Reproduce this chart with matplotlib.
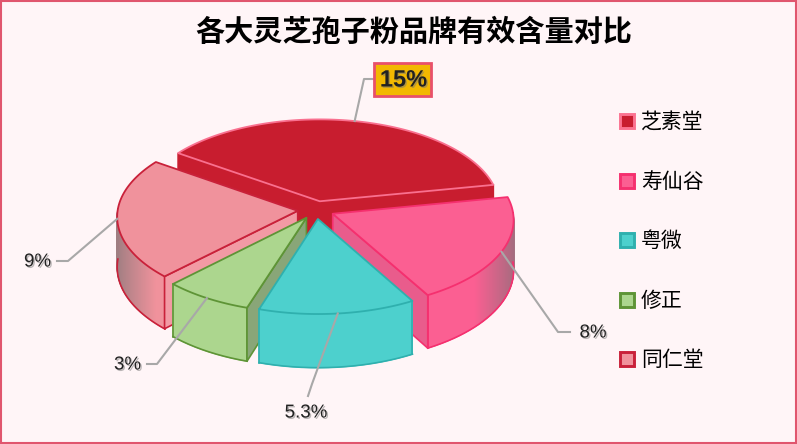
import numpy as np
import matplotlib
matplotlib.use('Agg')
import matplotlib.pyplot as plt
import matplotlib.patheffects as pe
from matplotlib.patches import Polygon, Rectangle

plt.rcParams['font.family'] = ['Noto Sans CJK SC', 'DejaVu Sans']

titulo = '各大灵芝孢子粉品牌有效含量对比'
marcas = ['芝素堂', '寿仙谷', '粤微', '修正', '同仁堂']
valores = [15, 8, 5.3, 3, 9]
rotulos = ['15%', '8%', '5.3%', '3%', '9%']

# topo, borda, parede cortada, parede externa
topo = ['#c81d2f', '#fb5f92', '#4dd0cd', '#acd68e', '#f0929c']
borda = ['#f9708f', '#f5306f', '#2fb0ae', '#5e9436', '#c9213a']
corte = ['#c81d2f', '#e95c8c', '#4dd0cd', '#89a678', '#f29aa4']
externa = ['#c81d2f', '#fb5f92', '#4dd0cd', '#acd68e', '#f0929c']
gradiente = [False, True, False, False, True]
legenda_fundo = ['#c81d2f', '#fb5f92', '#4dd0cd', '#acd68e', '#f0929c']
legenda_borda = ['#fb7391', '#f5306f', '#2fb0ae', '#5e9436', '#c9213a']

# geometria em pixels
cx, cy = 316, 210
a, b = 180, 88
per = 0.062
altura = 50
explode = 0.102
inicio = 145

# cotovelo e fim das linhas de rotulo
cotovelos = [(364, 79), (558, 332), (312, 384), (157, 364), (68, 261)]
finais = [(374, 79), (570, 332), (308, 396), (147, 364), (57, 261)]


def proj(x, y, z=0):
    s = 1 + per * y
    return cx + a * x / s, cy + (-b * y + altura * z) / s


def arco(t1, t2, n=160):
    return np.radians(np.linspace(t1, t2, n))


fig = plt.figure(figsize=(7.97, 4.44), dpi=100, facecolor='#fff5f7')
ax = fig.add_axes([0, 0, 1, 1])
ax.set_xlim(0, 797)
ax.set_ylim(444, 0)
ax.axis('off')

ax.add_patch(Rectangle((1, 1), 795, 442, fill=False, ec='#e0566e', lw=1.5))
ax.text(413.5, 32, titulo, ha='center', va='center', fontsize=21, fontweight='bold', color='black')

total = sum(valores)
fatias = []
ang = inicio
for v in valores:
    fatias.append((ang, ang - v / total * 360))
    ang = ang - v / total * 360

# ordem de desenho, de tras para frente
ordem = [0, 4, 1, 3, 2]
inicio_rotulos = {}
for i in ordem:
    z = 2 + ordem.index(i)
    t1, t2 = fatias[i]
    meio = np.radians((t1 + t2) / 2)
    ox, oy = explode * np.cos(meio), explode * np.sin(meio)
    inicio_rotulos[i] = proj(ox + np.cos(meio), oy + np.sin(meio))
    ts = arco(t1, t2)
    xs, ys = ox + np.cos(ts), oy + np.sin(ts)

    # parede externa, em tiras
    for k in range(len(ts) - 1):
        if np.sin(ts[k]) > 0.02:
            continue
        q = [proj(xs[k], ys[k]), proj(xs[k + 1], ys[k + 1]), proj(xs[k + 1], ys[k + 1], 1), proj(xs[k], ys[k], 1)]
        cor = np.array(matplotlib.colors.to_rgb(externa[i]))
        if gradiente[i]:
            m = np.clip((abs(np.cos(ts[k])) - 0.75) / 0.25, 0, 1)
            cor = cor * (1 - 0.65 * m) + np.array([0.45, 0.45, 0.45]) * 0.65 * m
        ax.add_patch(Polygon(q, closed=True, fc=cor, ec=cor, lw=0.8, zorder=z))
    borda_topo = [proj(x, y) for x, y in zip(xs, ys)]
    fundo = [proj(x, y, 1) for x, y, t in zip(xs, ys, ts) if np.sin(t) <= 0.02]
    if fundo:
        ax.plot([p[0] for p in fundo], [p[1] for p in fundo], color=borda[i], lw=1.2, zorder=z + 0.1)

    # arestas verticais nas pontas do arco
    for t in (t1, t2):
        r = np.radians(t)
        if np.sin(r) > 0.02 or i == 0:
            continue
        px, py = ox + np.cos(r), oy + np.sin(r)
        p1, p2 = proj(px, py), proj(px, py, 1)
        ax.plot([p1[0], p2[0]], [p1[1], p2[1]], color=borda[i], lw=1.2, zorder=z + 0.1)

    # paredes do corte que ficam de frente
    for t, sinal in ((t1, -1), (t2, 1)):
        r = np.radians(t)
        if sinal * np.cos(r) <= 0:
            continue
        px, py = ox + np.cos(r), oy + np.sin(r)
        q = [proj(ox, oy), proj(px, py), proj(px, py, 1), proj(ox, oy, 1)]
        ax.add_patch(Polygon(q, closed=True, fc=corte[i], ec=borda[i] if i else corte[i], lw=1.2, zorder=z + 0.2))

    # topo
    q = [proj(ox, oy)] + borda_topo
    ax.add_patch(Polygon(q, closed=True, fc=topo[i], ec=borda[i], lw=1.3, joinstyle='round', zorder=z + 0.3))

# linhas e rotulos
sombra = [pe.withSimplePatchShadow(offset=(1, -1), shadow_rgbFace='#777777', alpha=0.5)]
for i in range(len(valores)):
    p0 = inicio_rotulos[i]
    p1 = cotovelos[i]
    p2 = finais[i]
    ax.plot([p0[0], p1[0], p2[0]], [p0[1], p1[1], p2[1]], color='#a8a8a8', lw=1.5, zorder=10, solid_joinstyle='round')
    if i == 0:
        ax.add_patch(Rectangle((374.5, 63), 57, 33, fc='#f2b800', ec='#e8506a', lw=2, zorder=11))
        ax.text(403.5, 80, rotulos[i], ha='center', va='center', fontsize=17, fontweight='bold',
                family='Liberation Sans', color='#222222', path_effects=sombra, zorder=12)
    elif i == 1:
        ax.text(p2[0] + 9.5, p2[1] + 1, rotulos[i], ha='left', va='center', fontsize=13.5, family='Liberation Sans',
                color='#222222', path_effects=sombra, zorder=12)
    elif i == 2:
        ax.text(p2[0] - 2, p2[1] + 17, rotulos[i], ha='center', va='center', fontsize=13.5, family='Liberation Sans',
                color='#222222', path_effects=sombra, zorder=12)
    else:
        ax.text(p2[0] - 6, p2[1] + 1, rotulos[i], ha='right', va='center', fontsize=13.5, family='Liberation Sans',
                color='#222222', path_effects=sombra, zorder=12)

# legenda
for i, nome in enumerate(marcas):
    y = 121 + 59.5 * i
    ax.add_patch(Rectangle((620.5, y - 7), 14, 14, fc=legenda_fundo[i], ec=legenda_borda[i], lw=2.1, zorder=5))
    ax.text(641, y + 1, nome, ha='left', va='center', fontsize=15, color='black')

fig.savefig('out.png', dpi=100, facecolor=fig.get_facecolor())
